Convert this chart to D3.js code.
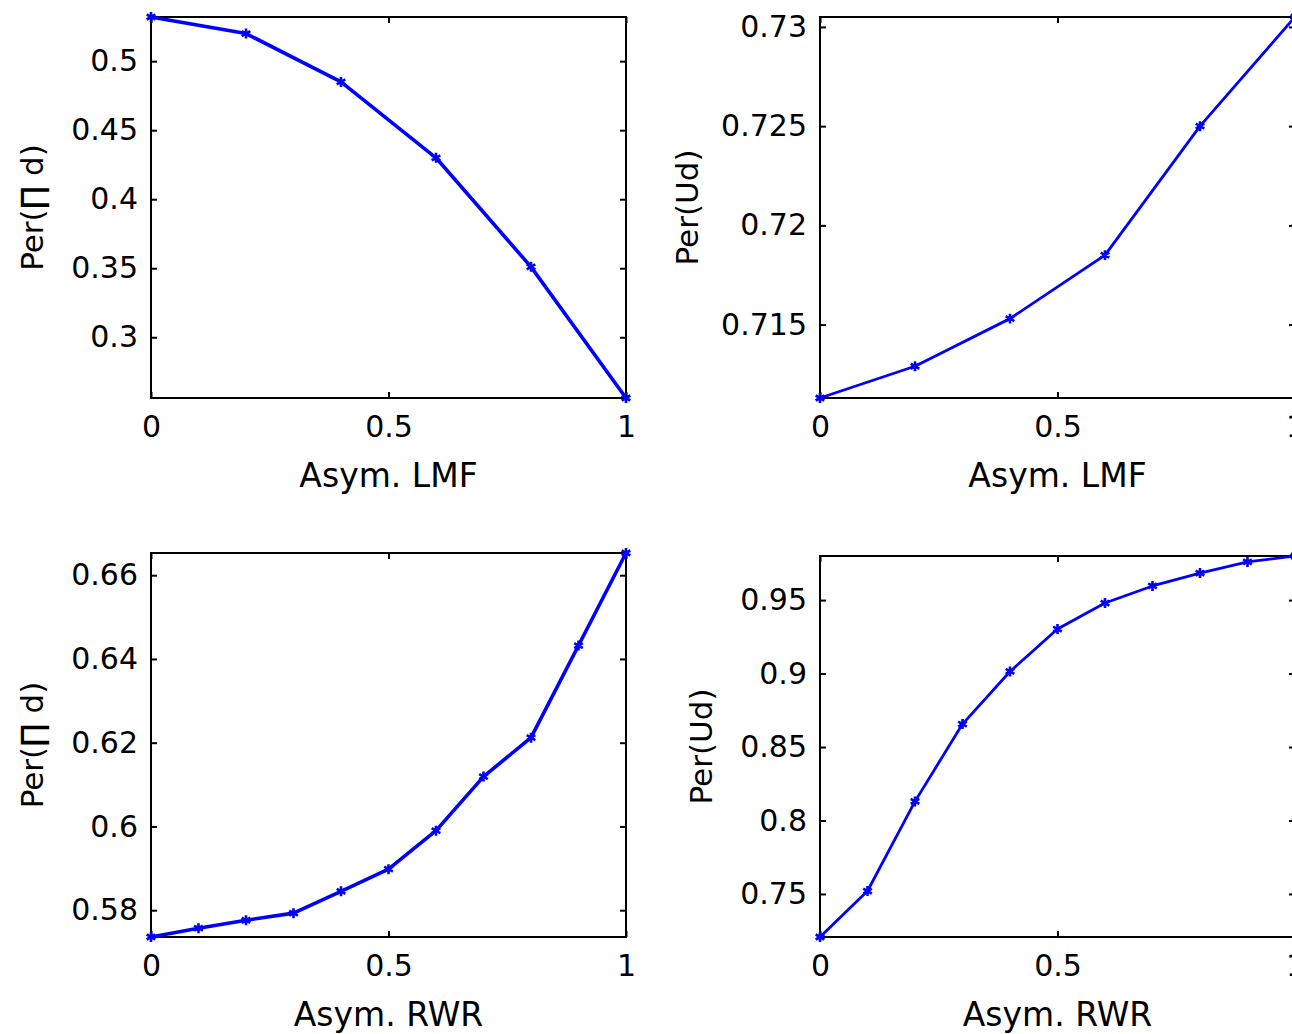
<!DOCTYPE html>
<html>
<head>
<meta charset="utf-8">
<script src="https://cdn.jsdelivr.net/npm/d3@7"></script>
<style>
  html, body { margin: 0; padding: 0; background: #fff; overflow: hidden; }
  svg { display: block; }
  text { font-family: "DejaVu Sans", sans-serif; fill: #000; }
</style>
</head>
<body>
<div id="Area"></div>
<script>
// data
var lmfX = [0, 0.2, 0.4, 0.6, 0.8, 1];
var lmfPerPi = [0.532, 0.520, 0.485, 0.430, 0.351, 0.256];
var lmfPerU = [0.7113, 0.7129, 0.7153, 0.7185, 0.7250, 0.7305];

var rwrX = [0, 0.1, 0.2, 0.3, 0.4, 0.5, 0.6, 0.7, 0.8, 0.9, 1];
var rwrPerPi = [0.5736, 0.5757, 0.5776, 0.5793, 0.5845, 0.5898, 0.5990, 0.6119, 0.6212, 0.6432, 0.6653];
var rwrPerU = [0.7207, 0.752, 0.813, 0.8656, 0.9014, 0.9303, 0.948, 0.9596, 0.9684, 0.976, 0.980];

var xTicks = [0, 0.5, 1];
var yTicksA = [0.3, 0.35, 0.4, 0.45, 0.5];
var yTicksB = [0.715, 0.72, 0.725, 0.73];
var yTicksC = [0.58, 0.6, 0.62, 0.64, 0.66];
var yTicksD = [0.75, 0.8, 0.85, 0.9, 0.95];

var labelPi = "Per(\u220F d)";
var labelU = "Per(Ud)";

var width = 1292, height = 1034;

var svg = d3.select("#Area")
  .append("svg")
    .attr("width", width)
    .attr("height", height);

// panel boxes (pixel layout)
var panels = [
  { x: lmfX, y: lmfPerPi, yt: yTicksA, xl: "Asym. LMF", yl: labelPi, left: 151, right: 626, top: 17, bottom: 398, ylOff: 108, lw: 3.6 },
  { x: lmfX, y: lmfPerU, yt: yTicksB, xl: "Asym. LMF", yl: labelU, left: 820, right: 1295, top: 17, bottom: 398, ylOff: 122, lw: 2.8 },
  { x: rwrX, y: rwrPerPi, yt: yTicksC, xl: "Asym. RWR", yl: labelPi, left: 151, right: 626, top: 553, bottom: 937, ylOff: 108, lw: 3.6 },
  { x: rwrX, y: rwrPerU, yt: yTicksD, xl: "Asym. RWR", yl: labelU, left: 820, right: 1295, top: 556, bottom: 937, ylOff: 108, lw: 2.8 }
];

panels.forEach(function(p) {
  var pts = p.x.map(function(v, i) { return { x: v, y: p.y[i] }; });

  var x = d3.scaleLinear().domain([0, 1]).range([p.left, p.right]);
  var y = d3.scaleLinear().domain(d3.extent(p.y)).range([p.bottom, p.top]);

  var g = svg.append("g");

  // bottom axis with labels, inward ticks
  g.append("g")
    .attr("transform", "translate(0," + p.bottom + ")")
    .call(d3.axisBottom(x).tickValues(xTicks).tickSize(-6).tickFormat(function(d) { return String(d); }))
    .call(function(a) {
      a.select(".domain").remove();
      a.selectAll("line").attr("stroke", "#000").attr("stroke-width", 2);
      a.selectAll("text").attr("font-size", 30).attr("fill", "#000").attr("dy", "0.71em").attr("y", 18);
    });
  // top ticks
  g.append("g")
    .attr("transform", "translate(0," + p.top + ")")
    .call(d3.axisTop(x).tickValues(xTicks).tickSize(-6).tickFormat(""))
    .call(function(a) {
      a.select(".domain").remove();
      a.selectAll("line").attr("stroke", "#000").attr("stroke-width", 2);
    });
  // left axis
  g.append("g")
    .attr("transform", "translate(" + p.left + ",0)")
    .call(d3.axisLeft(y).tickValues(p.yt).tickSize(-6).tickPadding(13).tickFormat(function(d) { return String(d); }))
    .call(function(a) {
      a.select(".domain").remove();
      a.selectAll("line").attr("stroke", "#000").attr("stroke-width", 2);
      a.selectAll("text").attr("font-size", 30).attr("fill", "#000");
    });
  // right ticks
  g.append("g")
    .attr("transform", "translate(" + p.right + ",0)")
    .call(d3.axisRight(y).tickValues(p.yt).tickSize(-6).tickFormat(""))
    .call(function(a) {
      a.select(".domain").remove();
      a.selectAll("line").attr("stroke", "#000").attr("stroke-width", 2);
    });

  // box
  g.append("rect")
    .attr("x", p.left)
    .attr("y", p.top)
    .attr("width", p.right - p.left)
    .attr("height", p.bottom - p.top)
    .attr("fill", "none")
    .attr("stroke", "#000")
    .attr("stroke-width", 2);

  // line
  g.append("path")
    .datum(pts)
    .attr("d", d3.line()
      .x(function(d) { return x(d.x); })
      .y(function(d) { return y(d.y); }))
    .attr("fill", "none")
    .attr("stroke", "#0000ff")
    .attr("stroke-width", p.lw)
    .attr("stroke-linejoin", "round");

  // star markers
  g.selectAll(".mk")
    .data(pts)
    .enter()
    .append("path")
    .attr("class", "mk")
    .attr("transform", function(d) { return "translate(" + x(d.x) + "," + y(d.y) + ")"; })
    .attr("d", d3.symbol().type(d3.symbolAsterisk).size(70))
    .attr("fill", "none")
    .attr("stroke", "#0000ff")
    .attr("stroke-width", 2.6);

  // axis titles
  g.append("text")
    .attr("x", (p.left + p.right) / 2)
    .attr("y", p.bottom + 89)
    .attr("text-anchor", "middle")
    .attr("font-size", 33)
    .text(p.xl);

  g.append("text")
    .attr("transform", "translate(" + (p.left - p.ylOff) + "," + ((p.top + p.bottom) / 2) + ") rotate(-90)")
    .attr("text-anchor", "middle")
    .attr("font-size", 31)
    .text(p.yl);
});
</script>
</body>
</html>
